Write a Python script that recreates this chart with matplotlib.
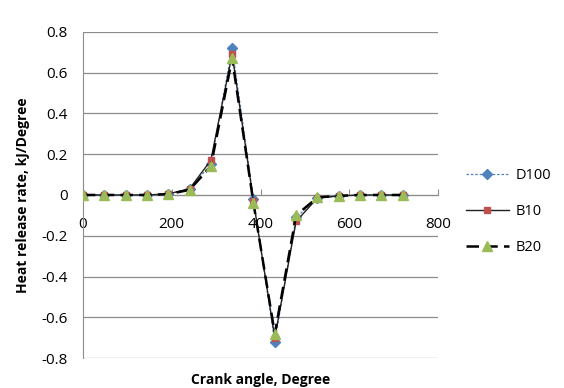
import matplotlib.pyplot as plt

crank_angle = [0, 48, 96, 144, 192, 240, 288, 336, 384, 432, 480, 528, 576, 624, 672, 720]
d100 = [0, 0, 0, 0, 0.005, 0.03, 0.15, 0.72, -0.02, -0.72, -0.11, -0.015, -0.005, 0, 0, 0]
b10 = [0, 0, 0, 0, 0.005, 0.03, 0.17, 0.69, -0.03, -0.70, -0.13, -0.015, -0.005, 0, 0, 0]
b20 = [0, 0, 0, 0, 0.004, 0.025, 0.14, 0.67, -0.04, -0.68, -0.10, -0.012, -0.004, 0, 0, 0]

plt.rcParams['font.family'] = ['Open Sans', 'DejaVu Sans']

fig = plt.figure(figsize=(5.64, 3.88), dpi=100)
ax = fig.add_axes([0.147, 0.077, 0.63, 0.841])

ax.plot(crank_angle, d100, color="#4F81BD", linestyle=(0, (2, 1.5)), linewidth=0.9,
        marker="D", markersize=5.5, markerfacecolor="#4F81BD", markeredgecolor="#4F81BD",
        label="D100", zorder=3)
ax.plot(crank_angle, b10, color="#222222", linestyle="-", linewidth=1.0,
        marker="s", markersize=5, markerfacecolor="#C0504D", markeredgecolor="#C0504D",
        label="B10", zorder=4)
ax.plot(crank_angle, b20, color="black", linestyle=(0, (5, 2.5)), linewidth=1.8,
        marker="^", markersize=7, markerfacecolor="#9BBB59", markeredgecolor="#9BBB59",
        label="B20", zorder=5)

ax.set_xlim(0, 800)
ax.set_ylim(-0.8, 0.8)
ax.set_xticks(range(0, 801, 200))
ax.set_yticks([-0.8, -0.6, -0.4, -0.2, 0, 0.2, 0.4, 0.6, 0.8])
ax.set_yticklabels(["-0.8", "-0.6", "-0.4", "-0.2", "0", "0.2", "0.4", "0.6", "0.8"])

ax.yaxis.grid(True, color="#8c8c8c", linewidth=0.9)
ax.set_axisbelow(True)

ax.spines["top"].set_visible(False)
ax.spines["right"].set_visible(False)
ax.spines["bottom"].set_position(("data", 0))
ax.spines["bottom"].set_color("#8c8c8c")
ax.spines["left"].set_color("#8c8c8c")

ax.tick_params(axis="x", direction="in", length=4, color="#8c8c8c", pad=16, labelsize=11)
ax.tick_params(axis="y", length=0, pad=11, labelsize=11)

ax.set_xlabel("Crank angle, Degree", fontweight="bold", fontsize=10, labelpad=2)
ax.set_ylabel("Heat release rate, kJ/Degree", fontweight="bold", fontsize=10, labelpad=8)
ax.xaxis.set_label_coords(0.5, -0.045)

ax.legend(loc="center left", bbox_to_anchor=(1.04, 0.45), frameon=False,
          fontsize=10.5, labelspacing=1.45, handlelength=3.0, handletextpad=0.4)

fig.savefig("out.png", dpi=100)
